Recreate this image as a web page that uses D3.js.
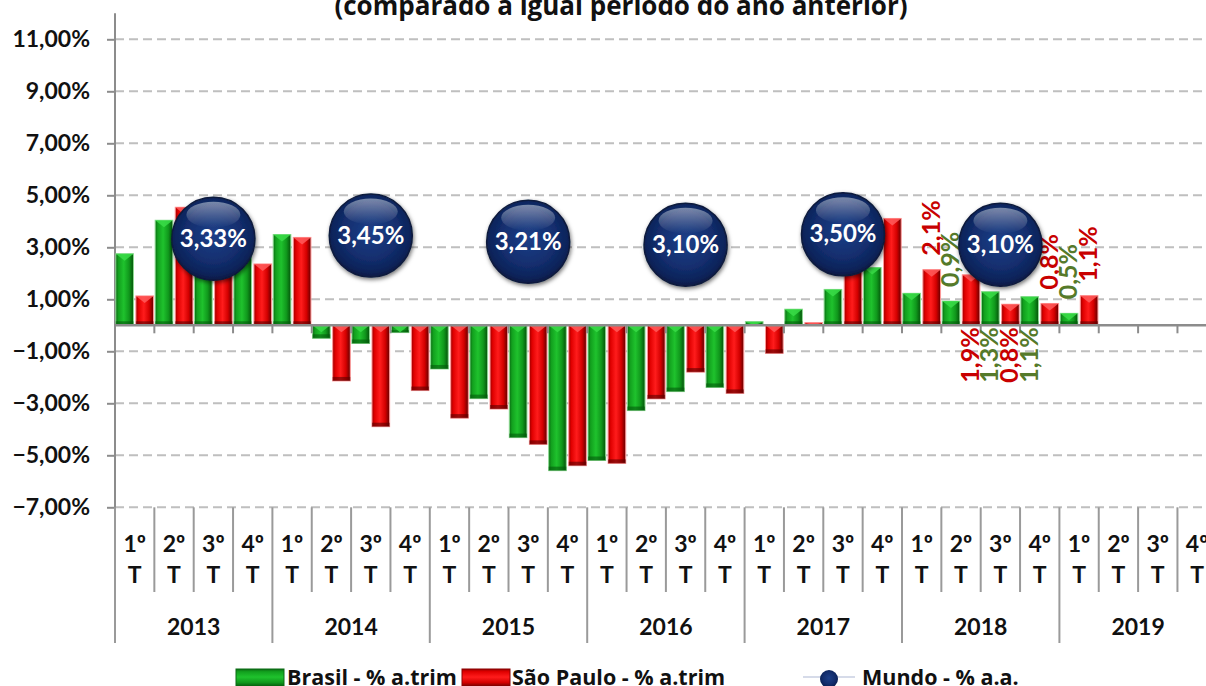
<!DOCTYPE html>
<html>
<head>
<meta charset="utf-8">
<script src="https://cdn.jsdelivr.net/npm/d3@7"></script>
<style>
  body { margin: 0; background: #fff; }
  svg { display: block; font-family: Lato, "Open Sans", sans-serif; font-weight: bold; }
</style>
</head>
<body>
<div id="chart"></div>
<script>
// Data
const quarters = ["1º", "2º", "3º", "4º"];
const years = ["2013", "2014", "2015", "2016", "2017", "2018", "2019"];
const brasil = [2.75, 4.04, 3.0, 2.8, 3.49, -0.5, -0.7, -0.28, -1.68, -2.82, -4.32, -5.59,
                -5.2, -3.28, -2.55, -2.39, 0.14, 0.62, 1.38, 2.22, 1.23, 0.93, 1.29, 1.1,
                0.46, null, null, null];
const saoPaulo = [1.13, 4.54, 2.9, 2.36, 3.38, -2.14, -3.9, -2.51, -3.57, -3.22, -4.58, -5.4,
                  -5.31, -2.83, -1.8, -2.62, -1.08, 0.1, 2.6, 4.11, 2.14, 1.94, 0.81, 0.84,
                  1.14, null, null, null];
const mundoYears = ["2013", "2014", "2015", "2016", "2017", "2018"];
const mundo = [3.33, 3.45, 3.21, 3.10, 3.50, 3.10];
const yTicks = [11, 9, 7, 5, 3, 1, -1, -3, -5, -7];
// data labels shown in the picture (series, category index, side of the axis)
const shownLabels = [
  {s: "sp", i: 20, side: "up"}, {s: "br", i: 21, side: "up"}, {s: "sp", i: 21, side: "down"},
  {s: "br", i: 22, side: "down"}, {s: "sp", i: 22, side: "down"}, {s: "br", i: 23, side: "down"},
  {s: "sp", i: 23, side: "up"}, {s: "br", i: 24, side: "up"}, {s: "sp", i: 24, side: "up"}
];

const categories = years.flatMap(y => quarters.map(q => y + "|" + q));
const series = {br: brasil, sp: saoPaulo};

const W = 1206, H = 686;
const left = 115, step = 39.35;

const svg = d3.select("#chart").append("svg")
    .attr("width", W)
    .attr("height", H);

const x = d3.scaleBand()
    .domain(categories)
    .range([left, left + step * categories.length])
    .padding(0);
const xSub = d3.scaleBand()
    .domain(["br", "sp"])
    .range([0, x.bandwidth()])
    .paddingInner(0.12)
    .paddingOuter(0.04);
const y = d3.scaleLinear().domain([-7, 12]).range([507.3, 13.3]);

// gradients
const defs = svg.append("defs");
function hGrad(id, stops, vertical) {
  const g = defs.append("linearGradient").attr("id", id)
      .attr("x1", 0).attr("y1", 0).attr("x2", vertical ? 0 : 1).attr("y2", vertical ? 1 : 0);
  stops.forEach(s => g.append("stop").attr("offset", s[0]).attr("stop-color", s[1]));
}
const greenStops = [[0, "#0a6a12"], [0.15, "#12a01e"], [0.45, "#1fc22d"], [0.75, "#10981c"], [1, "#04520a"]];
const redStops = [[0, "#9a0000"], [0.15, "#e00000"], [0.45, "#ff1c1c"], [0.75, "#d40000"], [1, "#620000"]];
hGrad("gGreen", greenStops, false);
hGrad("gRed", redStops, false);
hGrad("gGreenV", greenStops, true);
hGrad("gRedV", redStops, true);

const rg = defs.append("radialGradient").attr("id", "bubble")
    .attr("cx", "50%").attr("cy", "45%").attr("r", "55%");
[[0, "#1d3f88"], [0.6, "#132e6e"], [0.88, "#0c2359"], [1, "#071944"]]
  .forEach(s => rg.append("stop").attr("offset", s[0]).attr("stop-color", s[1]));
const hl = defs.append("linearGradient").attr("id", "shine")
    .attr("x1", 0).attr("y1", 0).attr("x2", 0).attr("y2", 1);
hl.append("stop").attr("offset", 0).attr("stop-color", "#fff").attr("stop-opacity", 0.45);
hl.append("stop").attr("offset", 1).attr("stop-color", "#fff").attr("stop-opacity", 0);
const shadow = defs.append("filter").attr("id", "shadow")
    .attr("x", "-30%").attr("y", "-30%").attr("width", "160%").attr("height", "160%");
shadow.append("feDropShadow").attr("dx", 1).attr("dy", 2).attr("stdDeviation", 2)
    .attr("flood-color", "#000").attr("flood-opacity", 0.55);

// title (only its lower part is inside the picture)
svg.append("text")
    .attr("x", 621).attr("y", 15)
    .attr("text-anchor", "middle")
    .attr("font-family", "'Open Sans', sans-serif")
    .attr("font-size", 26)
    .attr("fill", "#111")
    .text("(comparado a igual período do ano anterior)");

// grid lines
svg.append("g").selectAll("line")
  .data(yTicks)
  .join("line")
    .attr("x1", left).attr("x2", W)
    .attr("y1", d => y(d)).attr("y2", d => y(d))
    .attr("stroke", "#bfbfbf")
    .attr("stroke-width", 2)
    .attr("stroke-dasharray", "9,5");

// Y axis
const yAxis = svg.append("g")
    .attr("transform", `translate(${left},0)`)
    .call(d3.axisLeft(y)
      .tickValues(yTicks)
      .tickSize(8)
      .tickPadding(17)
      .tickFormat(d => d3.format(".2f")(d).replace(".", ",") + "%"));
yAxis.select(".domain").remove();
yAxis.selectAll(".tick line").attr("stroke", "#8c8c8c").attr("stroke-width", 2);
yAxis.selectAll(".tick text")
    .attr("font-size", 23)
    .attr("font-family", "Lato, 'Open Sans', sans-serif")
    .attr("font-weight", "bold")
    .attr("fill", "#111");
svg.append("line")
    .attr("x1", left).attr("x2", left)
    .attr("y1", y(12)).attr("y2", 643)
    .attr("stroke", "#8c8c8c").attr("stroke-width", 2);

// bars
function drawSeries(key, grad, bevel, edge, dark) {
  const data = series[key].map((v, i) => ({v, i})).filter(d => d.v != null);
  const g = svg.append("g");
  const bar = g.selectAll("g").data(data).join("g");
  const bx = d => x(categories[d.i]) + xSub(key);
  const top = d => y(Math.max(0, d.v));
  const hgt = d => Math.abs(y(d.v) - y(0));
  const w = xSub.bandwidth();
  bar.append("rect")
      .attr("x", bx).attr("y", top)
      .attr("width", w).attr("height", hgt)
      .attr("fill", `url(#${grad})`)
      .attr("stroke", edge).attr("stroke-width", 1);
  bar.append("rect")
      .attr("x", bx).attr("y", d => top(d) + hgt(d) - Math.min(4, hgt(d) / 3))
      .attr("width", w).attr("height", d => Math.min(4, hgt(d) / 3))
      .attr("fill", dark).attr("opacity", 0.6);
  bar.append("polygon")
      .attr("points", d => {
        const x0 = bx(d), y0 = top(d), b = Math.min(7, hgt(d));
        return `${x0},${y0} ${x0 + w},${y0} ${x0 + w / 2},${y0 + b}`;
      })
      .attr("fill", bevel).attr("opacity", 0.85);
}
drawSeries("br", "gGreen", "#39dc48", "#8edb93", "#045a0b");
drawSeries("sp", "gRed", "#ff5a5a", "#ff9a9a", "#5a0000");

// zero line with ticks
svg.append("line")
    .attr("x1", left).attr("x2", W)
    .attr("y1", y(0)).attr("y2", y(0))
    .attr("stroke", "#8c8c8c").attr("stroke-width", 2.5);
const bounds = categories.map(c => x(c)).concat([x.range()[1]]);
svg.append("g").selectAll("line")
  .data(bounds.slice(1))
  .join("line")
    .attr("x1", d => d).attr("x2", d => d)
    .attr("y1", y(0)).attr("y2", y(0) + 8)
    .attr("stroke", "#8c8c8c").attr("stroke-width", 2);

// category axis at the bottom
const catAxis = svg.append("g");
catAxis.selectAll("line")
  .data(bounds)
  .join("line")
    .attr("x1", d => d).attr("x2", d => d)
    .attr("y1", y(-7))
    .attr("y2", (d, i) => i % 4 === 0 ? 643 : 592)
    .attr("stroke", "#9a9a9a").attr("stroke-width", 2);
const catText = catAxis.selectAll("text.q")
  .data(categories)
  .join("text")
    .attr("class", "q")
    .attr("text-anchor", "middle")
    .attr("font-size", 23)
    .attr("fill", "#111");
catText.append("tspan")
    .attr("x", d => x(d) + x.bandwidth() / 2).attr("y", 552)
    .text(d => d.split("|")[1]);
catText.append("tspan")
    .attr("x", d => x(d) + x.bandwidth() / 2).attr("y", 583)
    .text("T");
catAxis.selectAll("text.yr")
  .data(years)
  .join("text")
    .attr("class", "yr")
    .attr("x", d => x(d + "|1º") + step * 2)
    .attr("y", 635)
    .attr("text-anchor", "middle")
    .attr("font-size", 23)
    .attr("fill", "#111")
    .text(d => d);

// data labels
const labelColor = {br: "#557a2a", sp: "#c80000"};
svg.append("g").selectAll("text")
  .data(shownLabels)
  .join("text")
    .attr("transform", d => {
      const v = series[d.s][d.i];
      const cx = x(categories[d.i]) + xSub(d.s) + xSub.bandwidth() / 2 + 8;
      const cy = d.side === "up" ? y(v) - 14 : y(0) + 2;
      return `translate(${cx},${cy}) rotate(-90)`;
    })
    .attr("text-anchor", d => d.side === "up" ? "start" : "end")
    .attr("font-size", 25)
    .attr("fill", d => labelColor[d.s])
    .text(d => (Math.round(series[d.s][d.i] * 10) / 10).toFixed(1).replace(".", ",") + "%");

// world bubbles
const bubble = svg.append("g").selectAll("g")
  .data(mundo.map((v, k) => ({v, year: mundoYears[k]})))
  .join("g")
    .attr("transform", d => `translate(${x(d.year + "|3º") + x.bandwidth() / 2},${y(d.v)})`);
bubble.append("circle")
    .attr("r", 41.5)
    .attr("fill", "url(#bubble)")
    .attr("stroke", "#0a1a3c").attr("stroke-width", 1.5)
    .attr("filter", "url(#shadow)");
bubble.append("ellipse")
    .attr("cx", 0).attr("cy", -24)
    .attr("rx", 27).attr("ry", 13)
    .attr("fill", "url(#shine)");
bubble.append("text")
    .attr("y", 8)
    .attr("text-anchor", "middle")
    .attr("font-size", 24)
    .attr("fill", "#fff")
    .text(d => d3.format(".2f")(d.v).replace(".", ",") + "%");

// legend
const legend = svg.append("g")
    .attr("font-family", "'Open Sans', sans-serif")
    .attr("font-size", 21.5)
    .attr("fill", "#111");
legend.append("rect").attr("x", 236).attr("y", 669).attr("width", 48).attr("height", 18)
    .attr("fill", "url(#gGreenV)").attr("stroke", "#0b6a14").attr("stroke-width", 1);
legend.append("text").attr("x", 287).attr("y", 685).text("Brasil - % a.trim");
legend.append("rect").attr("x", 462).attr("y", 669).attr("width", 48).attr("height", 18)
    .attr("fill", "url(#gRedV)").attr("stroke", "#8a0000").attr("stroke-width", 1);
legend.append("text").attr("x", 512).attr("y", 685).text("São Paulo - % a.trim");
legend.append("line").attr("x1", 803).attr("x2", 855).attr("y1", 677).attr("y2", 677)
    .attr("stroke", "#c9cfe2").attr("stroke-width", 1.5);
legend.append("circle").attr("cx", 829).attr("cy", 679).attr("r", 9)
    .attr("fill", "url(#bubble)");
legend.append("text").attr("x", 862).attr("y", 685).text("Mundo - % a.a.");
</script>
</body>
</html>
